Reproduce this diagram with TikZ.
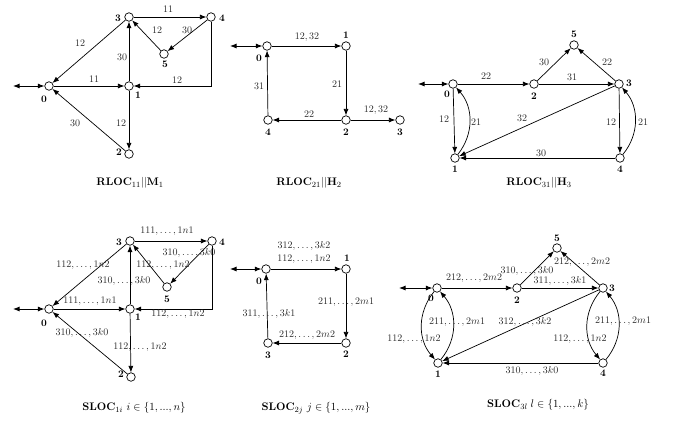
\documentclass[tikz,border=0pt]{standalone}
\usetikzlibrary{arrows.meta}
\begin{document}
\begin{tikzpicture}[x=1pt,y=-1pt,
  st/.style={circle,draw,fill=white,line width=0.7pt,minimum size=8.5pt,inner sep=0pt},
  nl/.style={font=\bfseries\fontsize{10}{11}\selectfont,inner sep=0pt},
  lb/.style n args={3}{label={[nl,shift={(#1,#2)}]center:#3}},
  lbl/.style={font=\fontsize{10}{12}\selectfont,text=black!85,inner sep=0pt},
  ttl/.style={font=\fontsize{11}{13}\selectfont,inner sep=0pt},
  ed/.style={-{Latex[length=6.5pt,width=5pt]},line width=0.7pt},
  io/.style={{Latex[length=6.5pt,width=5pt]}-{Latex[length=6.5pt,width=5pt]},line width=0.9pt},
]
\useasboundingbox (0,0) rectangle (675,426);

% ---------- Panel 1: RLOC11 || M1
\node[st,lb={-5}{13}{0}] (a0) at (49,86) {};
\node[st,lb={9}{9}{1}] (a1) at (129,86) {};
\node[st,lb={-10}{-2}{2}] (a2) at (129,154) {};
\node[st,lb={-11}{1}{3}] (a3) at (129,17) {};
\node[st,lb={11}{1}{4}] (a4) at (211,17) {};
\node[st,lb={1}{10}{5}] (a5) at (164,54) {};
\coordinate (as) at (13,86);
\draw[io] (as) -- (a0);
\draw[ed] (a3) -- (a4) node[lbl] (a34) at (168,9) {$11$};
\draw[ed] (a3) -- (a0) node[lbl] (a30) at (80,43) {$12$};
\draw[ed] (a1) -- (a3) node[lbl] (a13) at (122,57) {$30$};
\draw[ed] (a5) -- (a3) node[lbl] (a53) at (157,30) {$12$};
\draw[ed] (a4) -- (a5) node[lbl] (a45) at (187,30) {$30$};
\draw[ed] (a0) -- (a1) node[lbl] (a01) at (94,79) {$11$};
\draw[ed] (a4) |- (a1) node[lbl] (a41) at (177,80) {$12$};
\draw[ed] (a2) -- (a0) node[lbl] (a20) at (75,123) {$30$};
\draw[ed] (a1) -- (a2) node[lbl] (a12) at (121,123) {$12$};
\node[ttl] (t1) at (130,183) {$\mathbf{RLOC}_{11}||\mathbf{M}_1$};

% ---------- Panel 2: RLOC21 || H2
\node[st,lb={-8}{12}{0}] (b0) at (267,46) {};
\node[st,lb={0}{-11}{1}] (b1) at (346,46) {};
\node[st,lb={0}{12}{2}] (b2) at (346,120) {};
\node[st,lb={0}{12}{3}] (b3) at (400,120) {};
\node[st,lb={0}{12}{4}] (b4) at (268,120) {};
\coordinate (bs) at (230,46);
\draw[io] (bs) -- (b0);
\draw[ed] (b0) -- (b1) node[lbl] (b01) at (307,37) {$12,32$};
\draw[ed] (b1) -- (b2) node[lbl] (b12) at (337,84) {$21$};
\draw[ed] (b2) -- (b4) node[lbl] (b24) at (309,114) {$22$};
\draw[ed] (b4) -- (b0) node[lbl] (b40) at (259,86) {$31$};
\draw[ed] (b2) -- (b3) node[lbl] (b23) at (376,110) {$12,32$};
\node[ttl] (t2) at (309,183) {$\mathbf{RLOC}_{21}||\mathbf{H}_2$};

% ---------- Panel 3: RLOC31 || H3
\node[st,lb={-6}{10}{0}] (c0) at (453,84) {};
\node[st,lb={0}{11}{1}] (c1) at (455,158) {};
\node[st,lb={0}{12}{2}] (c2) at (534,84) {};
\node[st,lb={10}{-1}{3}] (c3) at (619,84) {};
\node[st,lb={0}{11}{4}] (c4) at (620,158) {};
\node[st,lb={0}{-11}{5}] (c5) at (574,45) {};
\coordinate (cs) at (418,84);
\draw[io] (cs) -- (c0);
\draw[ed] (c0) -- (c2) node[lbl] (c02) at (486,76) {$22$};
\draw[ed] (c2) -- (c5) node[lbl] (c25) at (544,62) {$30$};
\draw[ed] (c2) -- (c3) node[lbl] (c23) at (572,77) {$31$};
\draw[ed] (c3) -- (c5) node[lbl] (c35) at (607,62) {$22$};
\draw[ed] (c0) -- (c1) node[lbl] (c01) at (444,119) {$12$};
\draw[ed] (c1) to[bend right=40] (c0) node[lbl] (c10) at (476,122) {$21$};
\draw[ed] (c3) -- (c1) node[lbl] (c31) at (522,118) {$32$};
\draw[ed] (c3) -- (c4) node[lbl] (c34) at (611,122) {$12$};
\draw[ed] (c4) to[bend right=40] (c3) node[lbl] (c43) at (643,122) {$21$};
\draw[ed] (c4) -- (c1) node[lbl] (c41) at (541,153) {$30$};
\node[ttl] (t3) at (539,183) {$\mathbf{RLOC}_{31}||\mathbf{H}_3$};

% ---------- Panel 4: SLOC1i
\node[st,lb={-5}{14}{0}] (d0) at (49,309) {};
\node[st,lb={8}{8}{1}] (d1) at (130,309) {};
\node[st,lb={-10}{-3}{2}] (d2) at (131,377) {};
\node[st,lb={-11}{1}{3}] (d3) at (130,241) {};
\node[st,lb={10}{1}{4}] (d4) at (212,241) {};
\node[st,lb={0}{12}{5}] (d5) at (167,287) {};
\coordinate (ds) at (13,309);
\draw[io] (ds) -- (d0);
\draw[ed] (d3) -- (d4) node[lbl] (d34) at (167,231) {$111,\ldots,1n1$};
\draw[ed] (d4) -- (d5) node[lbl] (d45) at (189,253) {$310,\ldots,3k0$};
\draw[ed] (d3) -- (d0) node[lbl] (d30) at (83,265) {$112,\ldots,1n2$};
\draw[ed] (d5) -- (d3) node[lbl] (d53) at (163,265) {$112,\ldots,1n2$};
\draw[ed] (d1) -- (d3) node[lbl] (d13) at (124,281) {$310,\ldots,3k0$};
\draw[ed] (d0) -- (d1) node[lbl] (d01) at (90,301) {$111,\ldots,1n1$};
\draw[ed] (d4) |- (d1) node[lbl] (d41) at (178,314) {$112,\ldots,1n2$};
\draw[ed] (d2) -- (d0) node[lbl] (d20) at (82,333) {$310,\ldots,3k0$};
\draw[ed] (d1) -- (d2) node[lbl] (d12) at (140,347) {$112,\ldots,1n2$};
\node[ttl] (t4) at (134,408) {$\mathbf{SLOC}_{1i}\ i\in\{1,...,n\}$};

% ---------- Panel 5: SLOC2j
\node[st,lb={-7}{12}{0}] (e0) at (266,269) {};
\node[st,lb={1}{-11}{1}] (e1) at (346,269) {};
\node[st,lb={0}{11}{2}] (e2) at (346,343) {};
\node[st,lb={0}{12}{3}] (e3) at (268,343) {};
\coordinate (es) at (230,269);
\draw[io] (es) -- (e0);
\draw[ed] (e0) -- (e1) node[lbl] (e01a) at (304,246) {$312,\ldots,3k2$}
                       node[lbl] (e01b) at (304,259) {$112,\ldots,1n2$};
\draw[ed] (e1) -- (e2) node[lbl] (e12) at (346,302) {$211,\ldots,2m1$};
\draw[ed] (e2) -- (e3) node[lbl] (e23) at (307,335) {$212,\ldots,2m2$};
\draw[ed] (e3) -- (e0) node[lbl] (e30) at (269,314) {$311,\ldots,3k1$};
\node[ttl] (t5) at (316,408) {$\mathbf{SLOC}_{2j}\ j\in\{1,...,m\}$};

% ---------- Panel 6: SLOC3l
\node[st,lb={-6}{10}{0}] (f0) at (437,288) {};
\node[st,lb={0}{11}{1}] (f1) at (438,363) {};
\node[st,lb={0}{12}{2}] (f2) at (517,288) {};
\node[st,lb={9}{0}{3}] (f3) at (603,288) {};
\node[st,lb={0}{10}{4}] (f4) at (603,363) {};
\node[st,lb={0}{-10}{5}] (f5) at (557,248) {};
\coordinate (fs) at (399,288);
\draw[io] (fs) -- (f0);
\draw[ed] (f0) -- (f2) node[lbl] (f02) at (474,278) {$212,\ldots,2m2$};
\draw[ed] (f2) -- (f5) node[lbl] (f25) at (527,271) {$310,\ldots,3k0$};
\draw[ed] (f2) -- (f3) node[lbl] (f23) at (560,281) {$311,\ldots,3k1$};
\draw[ed] (f3) -- (f5) node[lbl] (f35) at (582,262) {$212,\ldots,2m2$};
\draw[ed] (f0) to[bend right=40] (f1) node[lbl] (f01) at (414,339) {$112,\ldots,1n2$};
\draw[ed] (f1) to[bend right=40] (f0) node[lbl] (f10) at (457,322) {$211,\ldots,2m1$};
\draw[ed] (f3) -- (f1) node[lbl] (f31) at (525,322) {$312,\ldots,3k2$};
\draw[ed] (f3) to[bend right=40] (f4) node[lbl] (f34) at (580,339) {$112,\ldots,1n2$};
\draw[ed] (f4) to[bend right=40] (f3) node[lbl] (f43) at (623,321) {$211,\ldots,2m1$};
\draw[ed] (f4) -- (f1) node[lbl] (f41) at (532,371) {$310,\ldots,3k0$};
\node[ttl] (t6) at (538,405) {$\mathbf{SLOC}_{3l}\;l\in\{1,...,k\}$};
\end{tikzpicture}
\end{document}
